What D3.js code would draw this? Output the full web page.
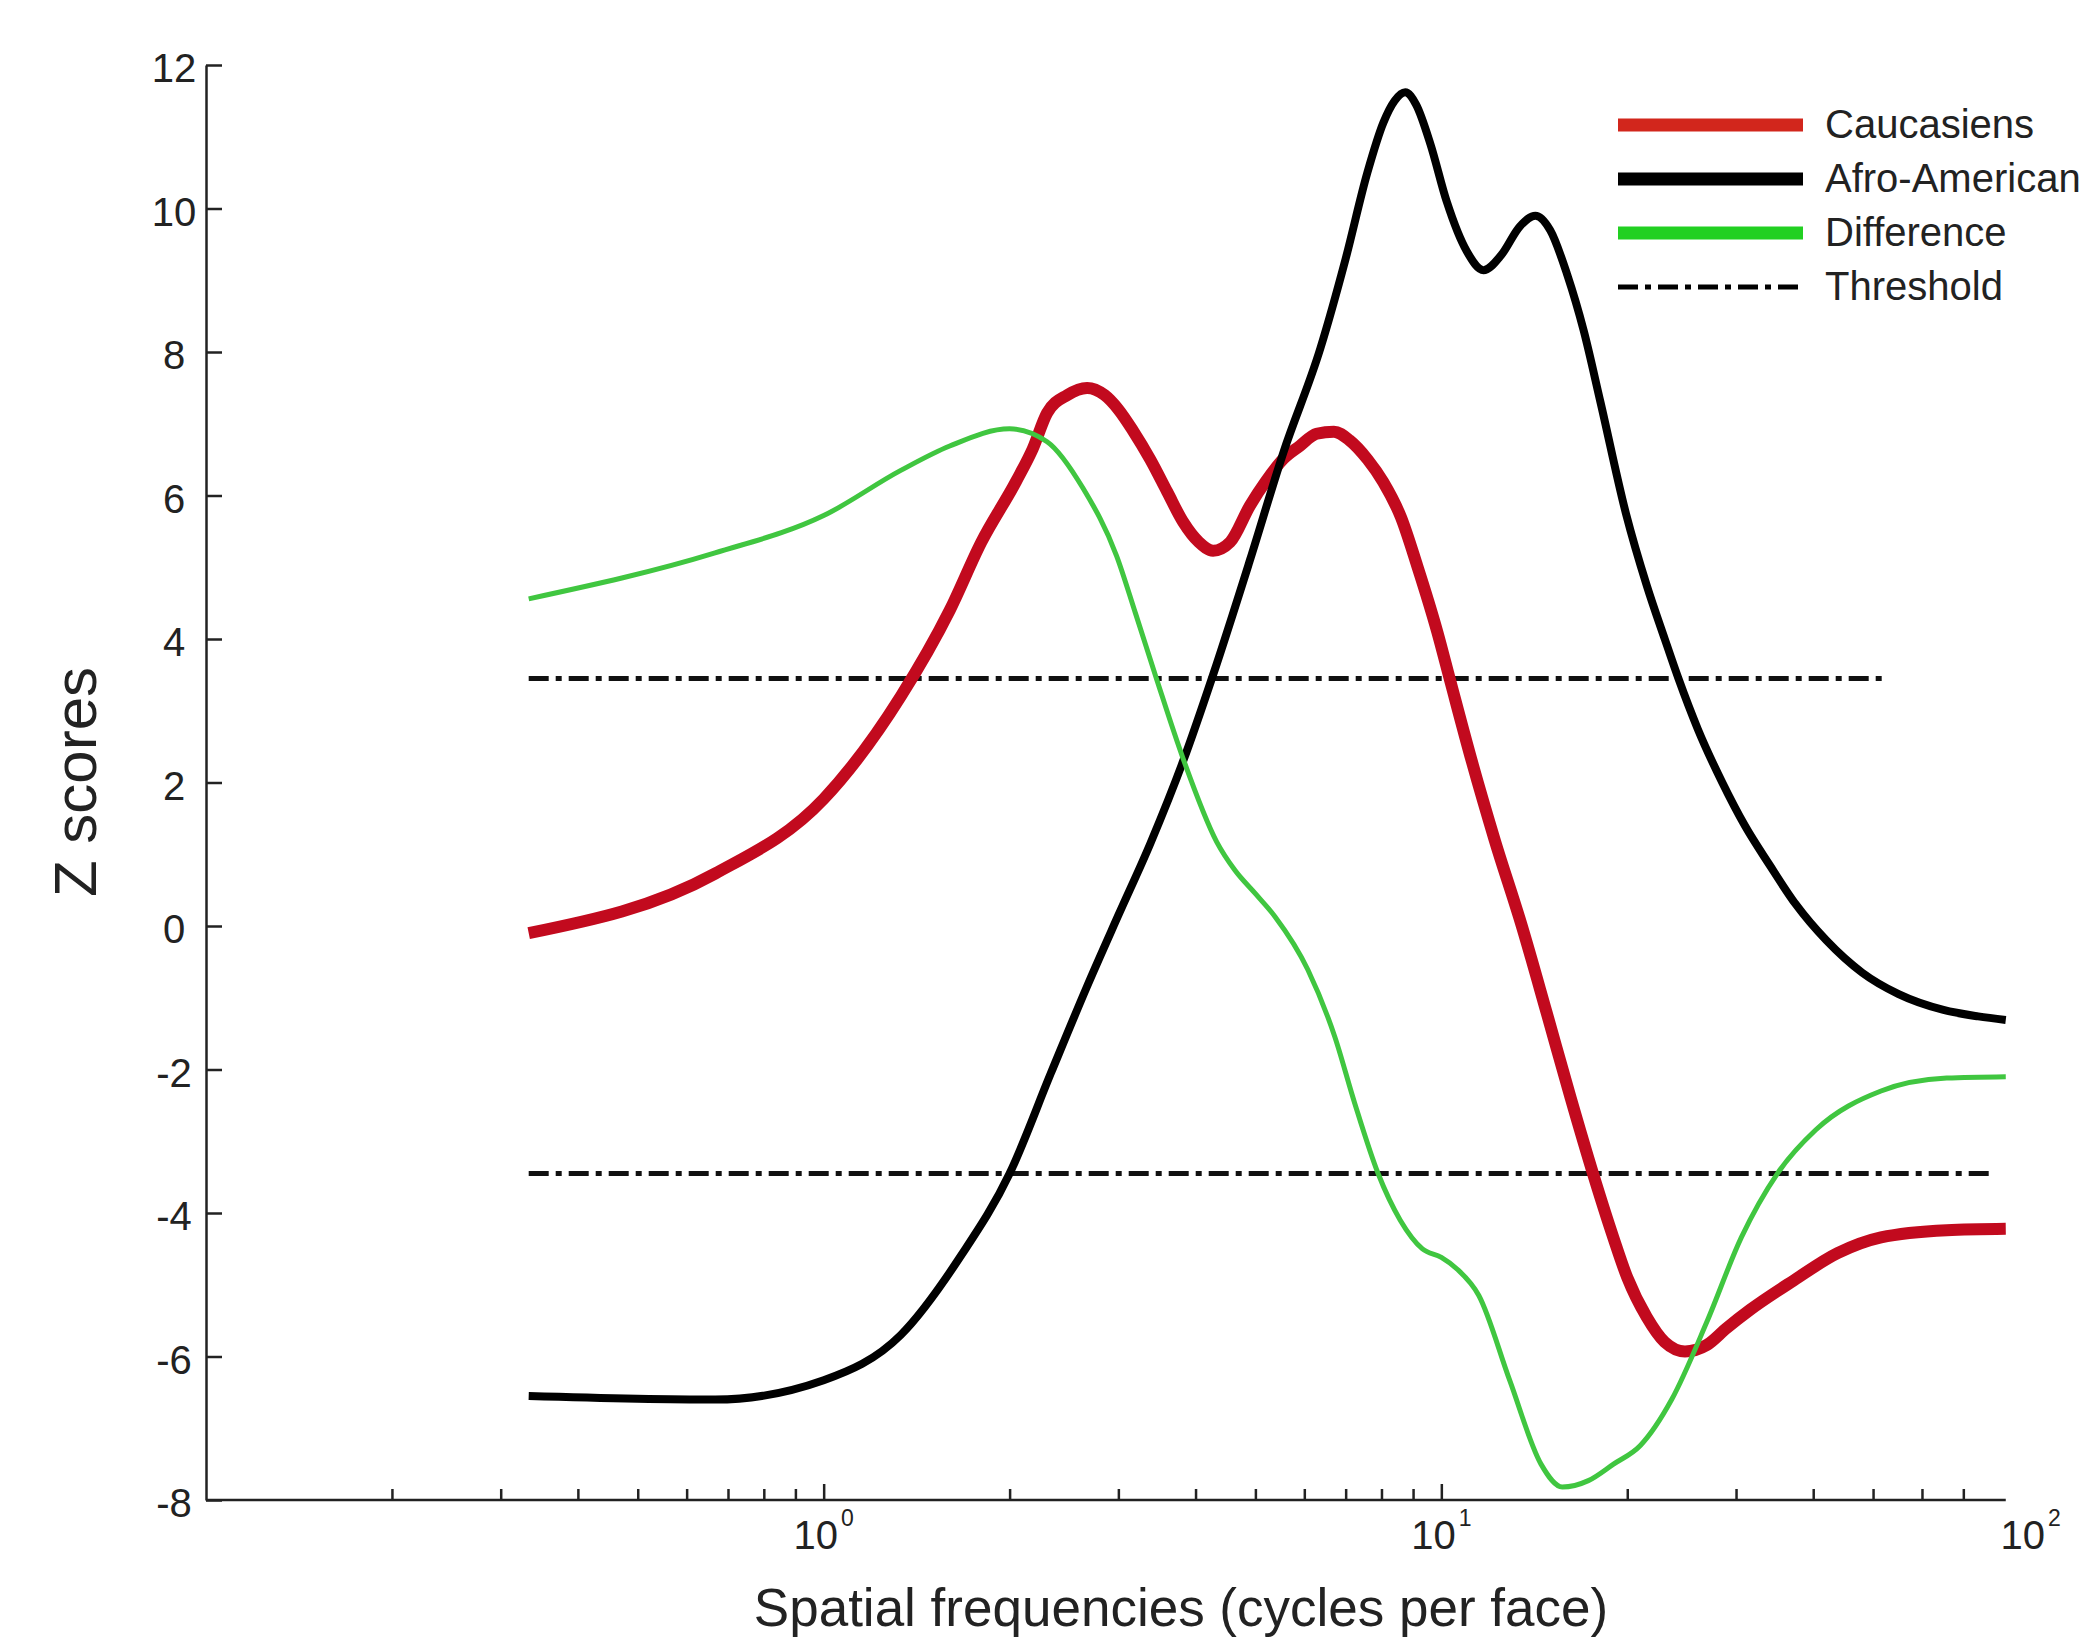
<!DOCTYPE html>
<html>
<head>
<meta charset="UTF-8">
<title>Z scores by spatial frequency</title>
<script src="https://d3js.org/d3.v7.min.js"></script>
<style>
  body { margin: 0; background: #fff; }
  text { font-family: "Liberation Sans", Arial, Helvetica, sans-serif; fill: #222; }
</style>
</head>
<body>
<div id="chart"></div>
<script>
// values: [frequency (cycles per face), z score]
var caucasiens = [
  [0.333, -0.10], [0.667, 0.73], [1.0, 1.77], [1.333, 3.2], [1.6, 4.4], [1.8, 5.35],
  [2.05, 6.2], [2.18, 6.65], [2.3, 7.15], [2.48, 7.4], [2.67, 7.5], [2.85, 7.4],
  [3.0, 7.2], [3.17, 6.9], [3.38, 6.5], [3.6, 6.05], [3.82, 5.63], [4.05, 5.35],
  [4.27, 5.23], [4.55, 5.35], [4.9, 5.86], [5.2, 6.2], [5.55, 6.51], [5.9, 6.69],
  [6.28, 6.86], [6.7, 6.89], [7.1, 6.77], [7.6, 6.5], [8.05, 6.19], [8.6, 5.7],
  [9.14, 5.02], [9.85, 4.1], [10.35, 3.4], [11.2, 2.3], [12.2, 1.2], [13.5, 0.0],
  [14.8, -1.2], [16.2, -2.4], [17.6, -3.45], [19.0, -4.35], [20.0, -4.9], [21.5, -5.45],
  [23.0, -5.8], [24.8, -5.93], [26.9, -5.84], [29.0, -5.6], [31.6, -5.35], [37.2, -4.94],
  [43.8, -4.56], [51.5, -4.34], [65.8, -4.24], [82, -4.22]
];

var afroAmerican = [
  [0.333, -6.55], [0.667, -6.60], [1.0, -6.33], [1.333, -5.7], [1.667, -4.6], [2.0, -3.45],
  [2.333, -2.05], [2.667, -0.85], [3.0, 0.15], [3.38, 1.15], [3.82, 2.3], [4.27, 3.5],
  [4.9, 5.1], [5.55, 6.6], [6.37, 8.05], [7.0, 9.3], [7.59, 10.5], [8.06, 11.2],
  [8.4, 11.5], [8.74, 11.62], [9.1, 11.45], [9.6, 10.9], [10.2, 10.1], [11.0, 9.4],
  [11.7, 9.14], [12.5, 9.35], [13.4, 9.75], [14.2, 9.9], [15.0, 9.7], [16.0, 9.07],
  [17.0, 8.3], [18.1, 7.3], [19.9, 5.75], [21.5, 4.75], [23.0, 4.0], [24.2, 3.45],
  [26.0, 2.75], [28.5, 2.0], [31, 1.4], [34, 0.85], [37.5, 0.3], [42, -0.2],
  [48, -0.65], [55, -0.95], [65, -1.17], [74, -1.26], [82, -1.31]
];

var difference = [
  [0.333, 4.56], [0.667, 5.2], [1.0, 5.72], [1.333, 6.35], [1.6, 6.69], [2.0, 6.93],
  [2.3, 6.75], [2.63, 6.1], [2.98, 5.16], [3.2, 4.35], [3.46, 3.44], [3.82, 2.33],
  [4.33, 1.17], [4.63, 0.78], [5.0, 0.45], [5.38, 0.13], [6.08, -0.61], [6.72, -1.54],
  [7.24, -2.47], [7.9, -3.45], [8.58, -4.1], [9.32, -4.5], [10.0, -4.62], [10.6, -4.78],
  [11.5, -5.15], [12.9, -6.33], [14.5, -7.5], [15.7, -7.82], [17.3, -7.73], [19.0, -7.5],
  [21.0, -7.24], [23.6, -6.6], [26.9, -5.52], [30.6, -4.34], [35.0, -3.45], [40.4, -2.84],
  [51.5, -2.3], [65.8, -2.12], [82, -2.1]
];

var thresholdUp = [[0.333, 3.45], [51.8, 3.45]];
var thresholdDown = [[0.333, -3.45], [77.6, -3.45]];

var yTicks = [12, 10, 8, 6, 4, 2, 0, -2, -4, -6, -8];
var xMajor = [1, 10];
var xMinor = [0.2, 0.3, 0.4, 0.5, 0.6, 0.7, 0.8, 0.9, 2, 3, 4, 5, 6, 7, 8, 9, 20, 30, 40, 50, 60, 70];
var xLabels = [[1, "0"], [10, "1"], [100, "2"]];
var xAxisEnd = 82;

var legendNames = ["Caucasiens", "Afro-American", "Difference", "Threshold"];
var legendColors = ["#d2261c", "#000", "#22d022", "#000"];

var width = 2085, height = 1639;

var svg = d3.select("#chart")
            .append("svg")
            .attr("width", width)
            .attr("height", height);

var xScale = d3.scaleLog().domain([0.1, 100]).range([206, 2059]);
var yScale = d3.scaleLinear().domain([-8, 12]).range([1500, 65]);

// y axis, ticks pointing inward
var yAxis = d3.axisLeft(yScale)
              .tickValues(yTicks)
              .tickSizeInner(-16)
              .tickSizeOuter(0)
              .tickFormat(function(d) { return String(d); });

var gy = svg.append("g")
            .attr("transform", "translate(" + xScale(0.1) + ",0)")
            .call(yAxis);
gy.select(".domain").attr("stroke", "#222").attr("stroke-width", 2.5);
gy.selectAll(".tick line").attr("stroke", "#222").attr("stroke-width", 2.5);
gy.selectAll(".tick text")
  .attr("x", -32)
  .attr("dy", "0.42em")
  .attr("text-anchor", "middle")
  .attr("font-size", 40);

// x axis (log), minor + major ticks pointing up
var gx = svg.append("g").attr("transform", "translate(0," + yScale(-8) + ")");

gx.append("g")
  .call(d3.axisBottom(xScale).tickValues(xMinor).tickSizeInner(-11).tickSizeOuter(0).tickFormat(""))
  .call(function(g) { g.select(".domain").remove(); });

gx.append("g")
  .call(d3.axisBottom(xScale).tickValues(xMajor).tickSizeInner(-16).tickSizeOuter(0).tickFormat(""))
  .call(function(g) { g.select(".domain").remove(); });

gx.selectAll(".tick line").attr("stroke", "#222").attr("stroke-width", 2.5);

gx.append("line")
  .attr("x1", xScale(0.1))
  .attr("x2", xScale(xAxisEnd))
  .attr("y1", 0)
  .attr("y2", 0)
  .attr("stroke", "#222")
  .attr("stroke-width", 2.5);

var xl = gx.selectAll(".xlab")
           .data(xLabels)
           .enter()
           .append("text")
           .attr("class", "xlab")
           .attr("x", function(d) { return Math.min(xScale(d[0]), xScale(xAxisEnd) + 25); })
           .attr("y", 49)
           .attr("text-anchor", "middle")
           .attr("font-size", 40);
xl.append("tspan").text("10");
xl.append("tspan")
  .attr("dx", 3)
  .attr("dy", -23)
  .attr("font-size", 23)
  .text(function(d) { return d[1]; });

// threshold lines
var line = d3.line()
             .x(function(d) { return xScale(d[0]); })
             .y(function(d) { return yScale(d[1]); });

[thresholdUp, thresholdDown].forEach(function(t) {
  svg.append("path")
     .attr("d", line(t))
     .attr("fill", "none")
     .attr("stroke", "#111")
     .attr("stroke-width", 5)
     .attr("stroke-dasharray", "20,7,6,7");
});

// curves
var smooth = d3.line()
               .x(function(d) { return xScale(d[0]); })
               .y(function(d) { return yScale(d[1]); })
               .curve(d3.curveMonotoneX);

svg.append("path")
   .attr("d", smooth(caucasiens))
   .attr("fill", "none")
   .attr("stroke", "#c20a1e")
   .attr("stroke-width", 12)
   .attr("stroke-linejoin", "round");

svg.append("path")
   .attr("d", smooth(afroAmerican))
   .attr("fill", "none")
   .attr("stroke", "#000")
   .attr("stroke-width", 8)
   .attr("stroke-linejoin", "round");

svg.append("path")
   .attr("d", smooth(difference))
   .attr("fill", "none")
   .attr("stroke", "#40c640")
   .attr("stroke-width", 5)
   .attr("stroke-linejoin", "round");

// axis titles
svg.append("text")
   .attr("x", 1181)
   .attr("y", 1626)
   .attr("text-anchor", "middle")
   .attr("font-size", 53)
   .text("Spatial frequencies (cycles per face)");

svg.append("text")
   .attr("transform", "translate(96,782) rotate(-90)")
   .attr("text-anchor", "middle")
   .attr("font-size", 60)
   .text("Z scores");

// legend
var legend = svg.append("g").attr("transform", "translate(1618,125)");
legendNames.forEach(function(name, i) {
  var row = legend.append("g").attr("transform", "translate(0," + (i * 54) + ")");
  row.append("line")
     .attr("x1", 0)
     .attr("x2", 185)
     .attr("y1", 0)
     .attr("y2", 0)
     .attr("stroke", legendColors[i])
     .attr("stroke-width", i === 3 ? 5 : 13)
     .attr("stroke-dasharray", i === 3 ? "20,7,6,7" : null);
  row.append("text")
     .attr("x", 207)
     .attr("y", 13)
     .attr("font-size", 40)
     .text(name);
});
</script>
</body>
</html>
